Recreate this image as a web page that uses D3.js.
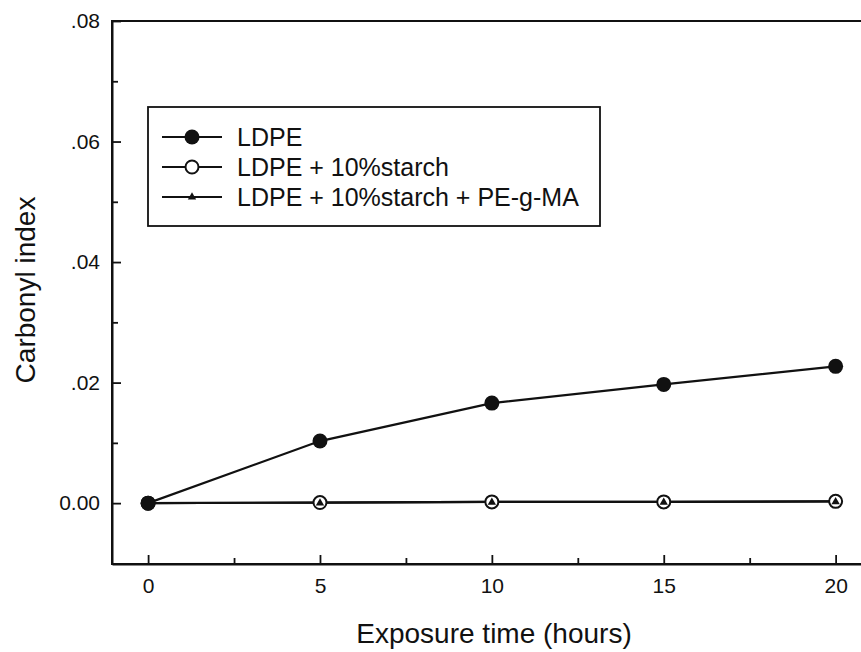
<!DOCTYPE html>
<html><head><meta charset="utf-8">
<script src="https://cdn.jsdelivr.net/npm/d3@7"></script>
<style>body{margin:0;background:#fff}svg{display:block}text{font-family:"Liberation Sans",Arial,sans-serif;fill:#111}</style>
</head><body><svg id="c" width="861" height="652"></svg>
<script>
const hours = [0, 5, 10, 15, 20];
const ldpe = [0.0, 0.0103, 0.0166, 0.0197, 0.0227];
const ldpeStarch = [0.0, 0.0001, 0.0002, 0.0002, 0.0003];
const ldpeStarchMA = [0.0, 0.0001, 0.0002, 0.0002, 0.0003];
const xTicks = [0, 5, 10, 15, 20];
const xMinor = [2.5, 7.5, 12.5, 17.5];
const yTicks = [0, 0.02, 0.04, 0.06, 0.08];
const yTickLabels = ["0.00", ".02", ".04", ".06", ".08"];
const yMinor = [-0.01, 0.01, 0.03, 0.05, 0.07];
const seriesNames = ["LDPE", "LDPE + 10%starch", "LDPE + 10%starch + PE-g-MA"];

const svg = d3.select("#c");
const x = d3.scaleLinear().domain([-1.05, 21]).range([112, 870]);
const y = d3.scaleLinear().domain([-0.0101, 0.08]).range([564, 21]);
const col = "#111";

// frame
svg.append("rect").attr("x", x(-1.05)).attr("y", y(0.08))
  .attr("width", x(21) - x(-1.05)).attr("height", y(-0.0101) - y(0.08))
  .attr("fill", "none").attr("stroke", col).attr("stroke-width", 2);

// x axis ticks (inward)
const xAxis = d3.axisBottom(x).tickValues(xTicks).tickSizeInner(-9).tickSizeOuter(0).tickPadding(14).tickFormat(d3.format("d"));
const gx = svg.append("g").attr("transform", `translate(0,${y(-0.0101)})`).call(xAxis);
gx.select(".domain").attr("stroke", col).attr("stroke-width", 2);
gx.selectAll(".tick line").attr("stroke", col).attr("stroke-width", 1.8);
gx.selectAll(".tick text").attr("font-size", 21).attr("font-family", '"Liberation Sans",Arial,sans-serif').attr("fill", col);
const gxm = svg.append("g").attr("transform", `translate(0,${y(-0.0101)})`)
  .call(d3.axisBottom(x).tickValues(xMinor).tickSizeInner(-6).tickSizeOuter(0).tickFormat(""));
gxm.select(".domain").remove();
gxm.selectAll(".tick line").attr("stroke", col).attr("stroke-width", 1.8);

// y axis
const yAxis = d3.axisLeft(y).tickValues(yTicks).tickSizeInner(-9).tickSizeOuter(0).tickPadding(12)
  .tickFormat((d, i) => yTickLabels[i]);
const gy = svg.append("g").attr("transform", `translate(${x(-1.05)},0)`).call(yAxis);
gy.select(".domain").attr("stroke", col).attr("stroke-width", 2);
gy.selectAll(".tick line").attr("stroke", col).attr("stroke-width", 1.8);
gy.selectAll(".tick text").attr("font-size", 21).attr("font-family", '"Liberation Sans",Arial,sans-serif').attr("fill", col);
const gym = svg.append("g").attr("transform", `translate(${x(-1.05)},0)`)
  .call(d3.axisLeft(y).tickValues(yMinor).tickSizeInner(-6).tickSizeOuter(0).tickFormat(""));
gym.select(".domain").remove();
gym.selectAll(".tick line").attr("stroke", col).attr("stroke-width", 1.8);

// titles
svg.append("text").attr("x", 494).attr("y", 643).attr("text-anchor", "middle")
  .attr("font-size", 28).text("Exposure time (hours)");
svg.append("text").attr("transform", "translate(35,290) rotate(-90)").attr("text-anchor", "middle")
  .attr("font-size", 28).text("Carbonyl index");

// lines
const line = d3.line().x((d, i) => x(hours[i])).y(d => y(d));
[ldpe, ldpeStarch, ldpeStarchMA].forEach(s => {
  svg.append("path").datum(s).attr("d", line).attr("fill", "none").attr("stroke", col).attr("stroke-width", 2.2);
});

const tri = d3.symbol().type(d3.symbolTriangle).size(30);
// markers
svg.append("g").selectAll("circle").data(ldpeStarch).join("circle")
  .attr("cx", (d, i) => x(hours[i])).attr("cy", d => y(d)).attr("r", 6.5)
  .attr("fill", "#fff").attr("stroke", col).attr("stroke-width", 2);
svg.append("g").selectAll("path").data(ldpeStarchMA).join("path")
  .attr("d", tri).attr("transform", (d, i) => `translate(${x(hours[i])},${y(d) + 0.5})`).attr("fill", col);
svg.append("g").selectAll("circle").data(ldpe).join("circle")
  .attr("cx", (d, i) => x(hours[i])).attr("cy", d => y(d)).attr("r", 7.5).attr("fill", col);

// legend
const lg = svg.append("g");
lg.append("rect").attr("x", 148).attr("y", 107).attr("width", 452).attr("height", 119)
  .attr("fill", "#fff").attr("stroke", col).attr("stroke-width", 1.8);
const rowY = [137, 167, 197];
seriesNames.forEach((n, i) => {
  lg.append("line").attr("x1", 162).attr("x2", 222).attr("y1", rowY[i]).attr("y2", rowY[i])
    .attr("stroke", col).attr("stroke-width", 2.2);
  if (i === 0) lg.append("circle").attr("cx", 192).attr("cy", rowY[i]).attr("r", 7.5).attr("fill", col);
  if (i === 1) lg.append("circle").attr("cx", 192).attr("cy", rowY[i]).attr("r", 6.5).attr("fill", "#fff").attr("stroke", col).attr("stroke-width", 2);
  if (i === 2) lg.append("path").attr("d", tri).attr("transform", `translate(192,${rowY[i]})`).attr("fill", col);
  lg.append("text").attr("x", 237).attr("y", rowY[i] + 9).attr("font-size", 25).text(n);
});
</script></body></html>
